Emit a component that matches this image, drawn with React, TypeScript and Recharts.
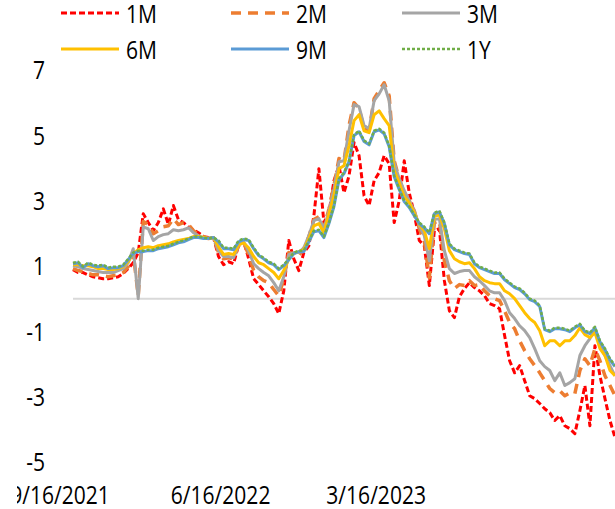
import React from 'react';
import { LineChart, Line, XAxis, YAxis, ReferenceLine, Legend } from 'recharts';

// category index (trading-day buckets)
const idx: number[] = [
  0,1,2,3,4,5,6,7,8,9,10,11,12,13,14,15,16,17,18,19,20,21,22,23,24,25,26,27,28,29,
  30,31,32,33,34,35,36,37,38,39,40,41,42,43,44,45,46,47,48,49,50,51,52,53,54,55,56,57,58,59,
  60,61,62,63,64,65,66,67,68,69,70,71,72,73,74,75,76,77,78,79,80,81,82,83,84,85,86,87,88,89,
  90,91,92,93,94,95,96,97,98,99,100,101,102,103,104,105,106,107,108,
];

const tickIdx = [0, 32, 63];
const tickLabels = ['9/16/2021', '6/16/2022', '3/16/2023'];
const yTicks = [-5, -3, -1, 1, 3, 5, 7];

const s1M = [
  0.89,0.80,0.80,0.73,0.67,0.64,0.61,0.61,0.64,0.67,
  0.77,0.92,1.10,1.41,2.60,2.33,2.08,2.33,2.75,2.27,
  2.85,2.42,2.33,2.20,2.11,2.02,1.90,1.87,1.87,1.29,
  1.04,1.13,1.07,1.65,1.78,1.22,0.61,0.43,0.24,0.06,
  -0.15,-0.46,0.24,1.78,1.22,0.86,1.41,1.62,2.54,3.98,
  2.33,2.63,3.61,4.07,3.24,3.76,4.78,4.38,3.15,2.85,
  3.61,3.86,4.38,4.13,2.33,3.00,4.22,3.24,2.60,1.78,
  1.62,0.40,2.08,2.14,0.55,-0.37,-0.58,0.06,0.31,0.49,
  0.34,0.24,0.09,-0.15,-0.21,-0.31,-1.13,-1.90,-2.27,-2.05,
  -2.51,-2.97,-3.06,-3.21,-3.37,-3.49,-3.73,-3.58,-3.89,-3.98,
  -4.13,-3.43,-2.66,-3.89,-1.44,-2.36,-3.06,-3.73,-4.25,
];

const s2M = [
  0.92,0.86,0.83,0.77,0.73,0.73,0.70,0.67,0.70,0.73,
  0.80,0.98,1.41,0.09,2.36,2.27,1.99,2.08,2.20,2.23,
  2.45,2.27,2.33,2.27,2.08,1.96,1.90,1.84,1.87,1.41,
  1.22,1.25,1.22,1.62,1.71,1.35,0.86,0.67,0.55,0.49,
  0.28,0.09,0.61,1.41,1.38,1.32,1.53,1.90,2.42,2.51,
  2.17,2.75,3.46,4.29,4.22,5.30,6.00,5.82,5.20,5.14,
  6.12,6.37,6.61,6.21,4.22,3.67,3.24,3.00,2.69,2.14,
  1.78,0.64,2.33,2.39,1.16,0.55,0.31,0.43,0.40,0.55,
  0.40,0.43,0.24,0.09,0.00,-0.06,-0.37,-0.73,-0.92,-1.29,
  -1.59,-1.84,-2.05,-2.27,-2.51,-2.75,-2.88,-2.82,-2.97,-2.88,
  -2.91,-2.20,-1.84,-2.05,-1.53,-1.90,-2.36,-2.66,-2.97,
];

const s3M = [
  1.01,0.98,0.92,0.89,0.86,0.83,0.80,0.80,0.80,0.86,
  0.92,1.10,1.53,0.00,2.20,2.14,1.78,1.90,1.96,1.99,
  2.11,2.08,2.11,2.17,2.02,1.93,1.87,1.84,1.87,1.47,
  1.29,1.29,1.25,1.65,1.74,1.47,1.07,0.92,0.80,0.70,
  0.49,0.24,0.67,1.35,1.41,1.41,1.56,1.93,2.39,2.45,
  2.14,2.69,3.37,4.19,4.22,5.14,5.94,5.88,5.30,5.20,
  6.06,6.27,6.55,6.06,4.16,3.67,3.31,3.00,2.69,2.23,
  1.93,1.16,2.42,2.45,1.47,0.92,0.77,0.83,0.86,0.86,
  0.67,0.55,0.40,0.24,0.18,0.18,-0.06,-0.43,-0.61,-0.83,
  -0.98,-1.19,-1.53,-1.90,-2.08,-2.20,-2.51,-2.27,-2.66,-2.57,
  -2.45,-1.74,-1.44,-1.22,-0.98,-1.44,-1.74,-2.05,-2.36,
];

const s6M = [
  1.04,1.04,1.01,1.01,0.98,0.92,0.92,0.89,0.89,0.92,
  0.98,1.13,1.38,1.50,1.56,1.59,1.56,1.62,1.65,1.68,
  1.74,1.78,1.81,1.84,1.90,1.90,1.87,1.84,1.87,1.59,
  1.35,1.38,1.35,1.65,1.71,1.56,1.29,1.10,1.04,0.92,
  0.80,0.61,0.86,1.22,1.38,1.44,1.50,1.84,2.23,2.30,
  2.02,2.60,3.15,3.98,4.07,4.68,5.45,5.63,5.14,5.08,
  5.63,5.75,5.51,5.30,3.92,3.55,3.12,2.94,2.63,2.27,
  2.08,1.53,2.51,2.57,2.14,1.47,1.22,1.13,1.07,1.10,
  0.92,0.67,0.55,0.49,0.46,0.46,0.24,0.15,0.00,-0.21,
  -0.43,-0.61,-0.73,-0.98,-1.44,-1.29,-1.29,-1.44,-1.29,-1.29,
  -1.13,-0.89,-1.10,-1.19,-1.04,-1.53,-1.74,-2.20,-2.36,
];

const s9M = [
  1.07,1.10,0.95,1.07,1.01,0.98,1.01,0.92,0.95,0.95,
  1.01,1.19,1.38,1.44,1.44,1.47,1.47,1.53,1.56,1.59,
  1.65,1.71,1.74,1.81,1.87,1.87,1.84,1.84,1.87,1.74,
  1.53,1.53,1.50,1.74,1.81,1.78,1.53,1.32,1.22,1.10,
  1.04,0.89,1.01,1.19,1.38,1.44,1.44,1.74,2.05,2.08,
  1.87,2.30,2.82,3.64,3.83,4.19,4.99,5.11,4.81,4.71,
  5.11,5.17,5.05,4.65,3.73,3.34,2.97,2.79,2.54,2.30,
  2.17,1.99,2.60,2.66,2.30,1.65,1.50,1.44,1.38,1.35,
  1.07,0.95,0.89,0.83,0.77,0.77,0.58,0.46,0.34,0.28,
  0.15,-0.03,-0.09,-0.24,-0.95,-1.01,-0.92,-0.92,-0.95,-1.01,
  -0.89,-0.80,-1.01,-1.07,-0.89,-1.32,-1.56,-1.87,-2.08,
];

const s1Y = [
  1.10,1.13,0.98,1.10,1.04,1.01,1.04,0.95,0.98,0.98,
  1.04,1.22,1.41,1.47,1.47,1.50,1.50,1.56,1.59,1.62,
  1.68,1.74,1.78,1.84,1.90,1.90,1.87,1.84,1.87,1.78,
  1.56,1.56,1.53,1.78,1.84,1.81,1.56,1.35,1.25,1.13,
  1.07,0.92,1.04,1.22,1.41,1.47,1.47,1.78,2.08,2.11,
  1.90,2.33,2.85,3.67,3.86,4.22,5.02,5.14,4.84,4.74,
  5.14,5.20,5.08,4.68,3.76,3.37,3.00,2.82,2.57,2.33,
  2.20,2.02,2.63,2.69,2.33,1.68,1.53,1.47,1.41,1.38,
  1.10,0.98,0.92,0.86,0.80,0.80,0.61,0.49,0.37,0.31,
  0.18,0.00,-0.06,-0.21,-0.92,-0.98,-0.89,-0.89,-0.92,-0.98,
  -0.86,-0.77,-0.98,-1.04,-0.86,-1.29,-1.53,-1.84,-2.05,
];

const series = [
  { key: 'm1', name: '1M', values: s1M, color: '#FF0000', width: 3, dash: '6 3' },
  { key: 'm2', name: '2M', values: s2M, color: '#ED7D31', width: 3.5, dash: '10 7' },
  { key: 'm3', name: '3M', values: s3M, color: '#A5A5A5', width: 3, dash: undefined },
  { key: 'm6', name: '6M', values: s6M, color: '#FFC000', width: 3, dash: undefined },
  { key: 'm9', name: '9M', values: s9M, color: '#5B9BD5', width: 3, dash: undefined },
  { key: 'y1', name: '1Y', values: s1Y, color: '#70AD47', width: 2.5, dash: '3 2' },
];

const data = idx.map((i) => {
  const row: Record<string, number> = { i };
  series.forEach((s) => { row[s.key] = s.values[i]; });
  return row;
});

const FONT = '"Open Sans", sans-serif';
const FS = 26;
const SX = 0.81;

const legendCols = [61, 231, 402];
const legendRows = [13, 49];

const LegendContent = () => (
  <div style={{ position: 'relative', width: 615, height: 70 }}>
    {series.map((s, k) => {
      const cx = legendCols[k % 3];
      const cy = legendRows[Math.floor(k / 3)];
      return (
        <React.Fragment key={s.key}>
          <svg style={{ position: 'absolute', left: cx, top: cy - 4 }} width={58} height={8}>
            <line x1={0} y1={4} x2={58} y2={4} stroke={s.color} strokeWidth={s.width} strokeDasharray={s.dash} />
          </svg>
          <span
            style={{
              position: 'absolute', left: cx + 65, top: cy - 13, fontFamily: FONT, fontSize: FS,
              lineHeight: '26px', height: 26, color: '#000', transform: `scaleX(${SX})`, transformOrigin: 'left center',
              whiteSpace: 'nowrap',
            }}
          >
            {s.name}
          </span>
        </React.Fragment>
      );
    })}
  </div>
);

const YTick = (props: any) => {
  const { x, y, payload } = props;
  return (
    <g transform={`translate(${x},${y}) scale(${SX},1)`}>
      <text x={0} y={0} dy={9.3} textAnchor="end" fontFamily={FONT} fontSize={FS} fill="#000">
        {payload.value}
      </text>
    </g>
  );
};

const XTick = (props: any) => {
  const { x, y, payload } = props;
  const k = tickIdx.indexOf(payload.value);
  return (
    <g transform={`translate(${x - 13},${y}) scale(${SX},1)`}>
      <text x={0} y={0} dy={42.3} textAnchor="middle" fontFamily={FONT} fontSize={FS} fill="#000">
        {k >= 0 ? tickLabels[k] : ''}
      </text>
    </g>
  );
};

export default function App() {
  return (
    <div style={{ position: 'absolute', left: 0, top: 0, width: 615, height: 509, overflow: 'hidden', background: '#fff' }}>
      <LineChart width={615} height={509} data={data} margin={{ top: 0, right: 0, bottom: 0, left: 0 }}>
        <Legend verticalAlign="top" align="left" content={<LegendContent />} wrapperStyle={{ top: 0, left: 0, width: 615, height: 70 }} />
        <XAxis
          dataKey="i" type="number" domain={[0, 108]} ticks={tickIdx} interval={0}
          axisLine={false} tickLine={false} tickSize={0} tickMargin={0} height={47} tick={<XTick />}
        />
        <YAxis
          type="number" domain={[-5, 7]} ticks={yTicks} interval={0} width={73}
          axisLine={false} tickLine={false} tickSize={0} tickMargin={28} tick={<YTick />}
        />
        <ReferenceLine y={0} stroke="#D9D9D9" strokeWidth={2} />
        {series.map((s) => (
          <Line
            key={s.key} type="linear" dataKey={s.key} name={s.name} stroke={s.color}
            strokeWidth={s.width} strokeDasharray={s.dash} dot={false} activeDot={false}
            isAnimationActive={false} strokeLinejoin="round"
          />
        ))}
      </LineChart>
      <div style={{ position: 'absolute', left: 0, top: 470, width: 17, height: 39, background: '#fff' }} />
    </div>
  );
}
